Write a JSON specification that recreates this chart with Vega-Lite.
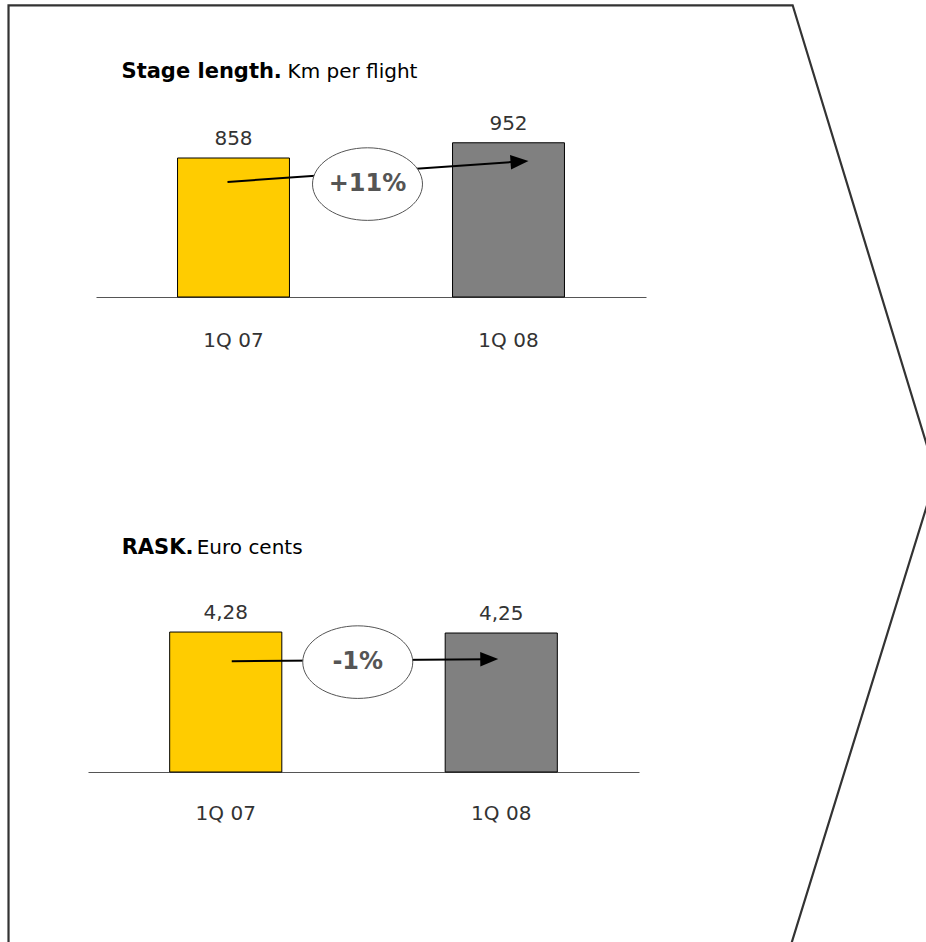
{
  "$schema": "https://vega.github.io/schema/vega-lite/v6.json",
  "width": 926,
  "height": 942,
  "autosize": {"type": "none"},
  "padding": 0,
  "background": "#ffffff",
  "config": {
    "view": {"stroke": null},
    "font": "DejaVu Sans",
    "locale": {"number": {"decimal": ",", "thousands": ".", "grouping": [3], "currency": ["", " €"]}}
  },
  "layer": [
    {
      "description": "Chevron-shaped slide frame, drawn in page percent units",
      "data": {"values": [
        {"step": 1, "px": 0.92, "py": 101},
        {"step": 2, "px": 0.92, "py": 0.56},
        {"step": 3, "px": 85.6, "py": 0.56},
        {"step": 4, "px": 101.1, "py": 50.5},
        {"step": 5, "px": 85.2, "py": 101}
      ]},
      "mark": {"type": "line", "stroke": "#333333", "strokeWidth": 2.2, "clip": true, "strokeJoin": "miter"},
      "encoding": {
        "x": {"field": "px", "type": "quantitative", "scale": {"domain": [0, 100], "nice": false, "zero": false}, "axis": null},
        "y": {"field": "py", "type": "quantitative", "scale": {"domain": [0, 100], "nice": false, "zero": false, "reverse": true}, "axis": null},
        "order": {"field": "step"}
      }
    },
    {
      "description": "Stage length, km per flight",
      "layer": [
        {
          "data": {"values": [
            {"quarter": "1Q 07", "km": 858},
            {"quarter": "1Q 08", "km": 952}
          ]},
          "mark": {"type": "bar", "stroke": "#000000", "strokeWidth": 1},
          "encoding": {
            "x": {
              "field": "quarter", "type": "nominal", "sort": null,
              "scale": {"domain": ["1Q 07", "1Q 08"], "range": [96, 646], "paddingInner": 0.593, "paddingOuter": 0.2965},
              "axis": {"orient": "bottom", "title": null, "offset": -645, "ticks": false, "labelAngle": 0, "labelFontSize": 20, "labelColor": "#333333", "labelPadding": 33, "domainColor": "#555555", "domainWidth": 1, "grid": false}
            },
            "y": {"field": "km", "type": "quantitative", "scale": {"domain": [0, 1000], "range": [297, 135], "nice": false}, "axis": null},
            "color": {"field": "quarter", "type": "nominal", "scale": {"domain": ["1Q 07", "1Q 08"], "range": ["#FFCC00", "#808080"]}, "legend": null}
          }
        },
        {
          "data": {"values": [
            {"quarter": "1Q 07", "km": 858},
            {"quarter": "1Q 08", "km": 952}
          ]},
          "mark": {"type": "text", "baseline": "alphabetic", "dy": -13, "fontSize": 20, "color": "#333333"},
          "encoding": {
            "x": {"field": "quarter", "type": "nominal", "sort": null},
            "y": {"field": "km", "type": "quantitative"},
            "text": {"field": "km", "type": "quantitative", "format": "d"}
          }
        },
        {
          "data": {"values": [{"change": "+11%"}]},
          "mark": {"type": "rule", "stroke": "#000000", "strokeWidth": 2, "xOffset": -6, "x2Offset": 10},
          "encoding": {"x": {"datum": "1Q 07"}, "x2": {"datum": "1Q 08"}, "y": {"datum": 710}, "y2": {"datum": 836}}
        },
        {
          "data": {"values": [{"change": "+11%"}]},
          "mark": {"type": "point", "shape": "M-1,0C-1,-0.3645,-0.5523,-0.66,0,-0.66C0.5523,-0.66,1,-0.3645,1,0C1,0.3645,0.5523,0.66,0,0.66C-0.5523,0.66,-1,0.3645,-1,0Z", "size": 12100, "filled": true, "fill": "#ffffff", "stroke": "#555555", "strokeWidth": 1, "opacity": 1, "xOffset": 134},
          "encoding": {"x": {"datum": "1Q 07"}, "y": {"datum": 697}}
        },
        {
          "data": {"values": [{"change": "+11%"}]},
          "mark": {"type": "text", "align": "center", "baseline": "middle", "fontSize": 24, "fontWeight": "bold", "color": "#555555", "xOffset": 134},
          "encoding": {"x": {"datum": "1Q 07"}, "y": {"datum": 697}, "text": {"field": "change"}}
        },
        {
          "data": {"values": [{"change": "+11%"}]},
          "mark": {"type": "point", "shape": "M-1,-0.8L1,0L-1,0.8Z", "size": 324, "filled": true, "color": "#000000", "opacity": 1, "angle": -4, "xOffset": 11},
          "encoding": {"x": {"datum": "1Q 08"}, "y": {"datum": 836}}
        },
        {
          "data": {"values": [{"title": "Stage length.", "subtitle": "Km per flight"}]},
          "mark": {"type": "text", "align": "left", "baseline": "alphabetic", "fontSize": 21, "fontWeight": "bold", "color": "#000000", "dx": -56},
          "encoding": {"x": {"datum": "1Q 07", "bandPosition": 0}, "y": {"datum": 1352}, "text": {"field": "title"}}
        },
        {
          "data": {"values": [{"title": "Stage length.", "subtitle": "Km per flight"}]},
          "mark": {"type": "text", "align": "left", "baseline": "alphabetic", "fontSize": 20, "color": "#000000", "dx": 110},
          "encoding": {"x": {"datum": "1Q 07", "bandPosition": 0}, "y": {"datum": 1352}, "text": {"field": "subtitle"}}
        }
      ]
    },
    {
      "description": "RASK, euro cents",
      "layer": [
        {
          "data": {"values": [
            {"quarter": "1Q 07", "rask": 4.28},
            {"quarter": "1Q 08", "rask": 4.25}
          ]},
          "mark": {"type": "bar", "stroke": "#000000", "strokeWidth": 1},
          "encoding": {
            "x": {
              "field": "quarter", "type": "nominal", "sort": null,
              "scale": {"domain": ["1Q 07", "1Q 08"], "range": [88, 639], "paddingInner": 0.593, "paddingOuter": 0.2965},
              "axis": {"orient": "bottom", "title": null, "offset": -170, "ticks": false, "labelAngle": 0, "labelFontSize": 20, "labelColor": "#333333", "labelPadding": 31, "domainColor": "#555555", "domainWidth": 1, "grid": false}
            },
            "y": {"field": "rask", "type": "quantitative", "scale": {"domain": [0, 5], "range": [772, 608.5], "nice": false}, "axis": null},
            "color": {"field": "quarter", "type": "nominal", "scale": {"domain": ["1Q 07", "1Q 08"], "range": ["#FFCC00", "#808080"]}, "legend": null}
          }
        },
        {
          "data": {"values": [
            {"quarter": "1Q 07", "rask": 4.28},
            {"quarter": "1Q 08", "rask": 4.25}
          ]},
          "mark": {"type": "text", "baseline": "alphabetic", "dy": -13, "fontSize": 20, "color": "#333333"},
          "encoding": {
            "x": {"field": "quarter", "type": "nominal", "sort": null},
            "y": {"field": "rask", "type": "quantitative"},
            "text": {"field": "rask", "type": "quantitative", "format": ".2f"}
          }
        },
        {
          "data": {"values": [{"change": "-1%"}]},
          "mark": {"type": "rule", "stroke": "#000000", "strokeWidth": 2, "xOffset": 6, "x2Offset": -12},
          "encoding": {"x": {"datum": "1Q 07"}, "x2": {"datum": "1Q 08"}, "y": {"datum": 3.39}, "y2": {"datum": 3.45}}
        },
        {
          "data": {"values": [{"change": "-1%"}]},
          "mark": {"type": "point", "shape": "M-1,0C-1,-0.3645,-0.5523,-0.66,0,-0.66C0.5523,-0.66,1,-0.3645,1,0C1,0.3645,0.5523,0.66,0,0.66C-0.5523,0.66,-1,0.3645,-1,0Z", "size": 12100, "filled": true, "fill": "#ffffff", "stroke": "#555555", "strokeWidth": 1, "opacity": 1, "xOffset": 132},
          "encoding": {"x": {"datum": "1Q 07"}, "y": {"datum": 3.36}}
        },
        {
          "data": {"values": [{"change": "-1%"}]},
          "mark": {"type": "text", "align": "center", "baseline": "middle", "fontSize": 24, "fontWeight": "bold", "color": "#555555", "xOffset": 132},
          "encoding": {"x": {"datum": "1Q 07"}, "y": {"datum": 3.36}, "text": {"field": "change"}}
        },
        {
          "data": {"values": [{"change": "-1%"}]},
          "mark": {"type": "point", "shape": "M-1,-0.8L1,0L-1,0.8Z", "size": 324, "filled": true, "color": "#000000", "opacity": 1, "angle": -0.5, "xOffset": -12},
          "encoding": {"x": {"datum": "1Q 08"}, "y": {"datum": 3.45}}
        },
        {
          "data": {"values": [{"title": "RASK.", "subtitle": "Euro cents"}]},
          "mark": {"type": "text", "align": "left", "baseline": "alphabetic", "fontSize": 21, "fontWeight": "bold", "color": "#000000", "dx": -48},
          "encoding": {"x": {"datum": "1Q 07", "bandPosition": 0}, "y": {"datum": 6.67}, "text": {"field": "title"}}
        },
        {
          "data": {"values": [{"title": "RASK.", "subtitle": "Euro cents"}]},
          "mark": {"type": "text", "align": "left", "baseline": "alphabetic", "fontSize": 20, "color": "#000000", "dx": 27},
          "encoding": {"x": {"datum": "1Q 07", "bandPosition": 0}, "y": {"datum": 6.67}, "text": {"field": "subtitle"}}
        }
      ]
    }
  ],
  "resolve": {"scale": {"x": "independent", "y": "independent"}}
}
